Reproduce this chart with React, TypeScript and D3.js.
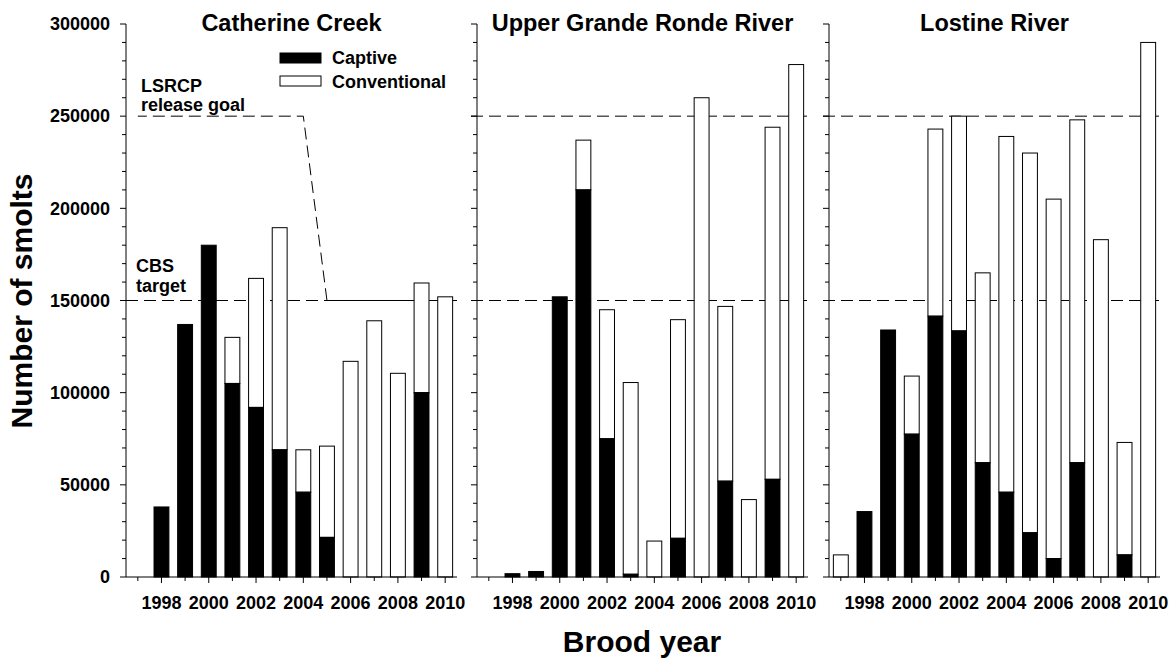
import React from "react";
import * as d3 from "d3";

const years = [1997, 1998, 1999, 2000, 2001, 2002, 2003, 2004, 2005, 2006, 2007, 2008, 2009, 2010];
const panelTitles = ["Catherine Creek", "Upper Grande Ronde River", "Lostine River"];

const catherineCaptive = [0, 38000, 137000, 180000, 105000, 92000, 69000, 46000, 21500, 0, 0, 0, 100000, 0];
const catherineConventional = [0, 0, 0, 0, 25000, 70000, 120500, 23000, 49500, 117000, 139000, 110500, 59500, 152000];

const grandeRondeCaptive = [0, 1800, 3000, 152000, 210000, 75000, 1500, 0, 21000, 0, 52000, 0, 53000, 0];
const grandeRondeConventional = [0, 0, 0, 0, 27000, 70000, 104000, 19500, 118600, 260000, 94800, 42000, 191000, 278000];

const lostineCaptive = [0, 35500, 134000, 77500, 141500, 133500, 62000, 46000, 24000, 10000, 62000, 0, 12000, 0];
const lostineConventional = [12000, 0, 0, 31500, 101500, 116500, 103000, 193000, 206000, 195000, 186000, 183000, 61000, 290000];

const yMajorTicks = [0, 50000, 100000, 150000, 200000, 250000, 300000];
const xLabelYears = [1998, 2000, 2002, 2004, 2006, 2008, 2010];

const lsrcpGoal = [
  { year: 1997, value: 250000 },
  { year: 2004, value: 250000 },
  { year: 2005, value: 150000 },
  { year: 2010.5, value: 150000 },
];
const cbsTarget = 150000;
const releaseGoal = 250000;

const seriesCaptive = [catherineCaptive, grandeRondeCaptive, lostineCaptive];
const seriesConventional = [catherineConventional, grandeRondeConventional, lostineConventional];

const W = 1173;
const H = 661;
const panelLefts = [126, 477, 829];
const panelWidth = 331;
const top = 24;
const bottom = 577;
const FONT = "'Liberation Sans', Arial, sans-serif";

export default function App() {
  const y = d3.scaleLinear().domain([0, 300000]).range([bottom, top]);
  const minorY = d3.range(0, 300001, 10000);

  return (
    <svg
      width={W}
      height={H}
      style={{ position: "absolute", left: 0, top: 0, background: "#fff" }}
      fontFamily={FONT}
      fontWeight="bold"
    >
      <rect x={0} y={0} width={W} height={H} fill="#fff" />
      {panelLefts.map((left, pi) => {
        const x = d3.scaleLinear().domain([1996.5, 2010.5]).range([left, left + panelWidth]);
        const step = x(1) - x(0);
        const bw = step * 0.63;
        const cap = seriesCaptive[pi];
        const conv = seriesConventional[pi];
        const line = d3
          .line<{ year: number; value: number }>()
          .x((d) => x(d.year))
          .y((d) => y(d.value));
        const dash = "12,6";
        return (
          <g key={pi}>
            {/* reference lines */}
            {pi === 0 ? (
              <>
                <line x1={left} x2={x(2010.5)} y1={y(cbsTarget)} y2={y(cbsTarget)} stroke="#000" strokeWidth={1} strokeDasharray={dash} />
                <path d={line(lsrcpGoal) || ""} fill="none" stroke="#000" strokeWidth={1} strokeDasharray={dash} strokeDashoffset={3} />
              </>
            ) : (
              <>
                <line x1={left - 6} x2={x(2010.5)} y1={y(cbsTarget)} y2={y(cbsTarget)} stroke="#000" strokeWidth={1} strokeDasharray={dash} />
                <line x1={left - 6} x2={x(2010.5)} y1={y(releaseGoal)} y2={y(releaseGoal)} stroke="#000" strokeWidth={1} strokeDasharray={dash} />
              </>
            )}
            {/* bars */}
            {years.map((yr, i) => {
              const c = cap[i];
              const v = conv[i];
              const cx = x(yr);
              return (
                <g key={yr}>
                  {v > 0 && (
                    <rect
                      x={cx - bw / 2}
                      y={y(c + v)}
                      width={bw}
                      height={y(c) - y(c + v)}
                      fill="#fff"
                      stroke="#000"
                      strokeWidth={1}
                    />
                  )}
                  {c > 0 && (
                    <rect
                      x={cx - bw / 2}
                      y={y(c)}
                      width={bw}
                      height={y(0) - y(c)}
                      fill="#000"
                      stroke="#000"
                      strokeWidth={1}
                    />
                  )}
                </g>
              );
            })}
            {/* y axis */}
            <line x1={left} x2={left} y1={top} y2={bottom} stroke="#000" strokeWidth={1} />
            {minorY.map((t) => {
              const major = t % 50000 === 0;
              return (
                <line key={t} x1={left - (major ? 6 : 4)} x2={left} y1={y(t)} y2={y(t)} stroke="#000" strokeWidth={1} />
              );
            })}
            {pi === 0 &&
              yMajorTicks.map((t) => (
                <text key={t} x={left - 16} y={y(t)} dy="0.35em" textAnchor="end" fontSize={18}>
                  {t}
                </text>
              ))}
            {/* x axis */}
            <line x1={left} x2={x(2010.5)} y1={bottom} y2={bottom} stroke="#000" strokeWidth={1} />
            {years.map((yr) => {
              const major = yr % 2 === 0;
              return (
                <line key={yr} x1={x(yr)} x2={x(yr)} y1={bottom} y2={bottom + (major ? 6 : 4)} stroke="#000" strokeWidth={1} />
              );
            })}
            {xLabelYears.map((yr) => (
              <text key={yr} x={x(yr)} y={609} textAnchor="middle" fontSize={18}>
                {yr}
              </text>
            ))}
            {/* title */}
            <text x={left + panelWidth / 2} y={31} textAnchor="middle" fontSize={23.5}>
              {panelTitles[pi]}
            </text>
          </g>
        );
      })}
      {/* legend */}
      <rect x={280} y={53} width={41} height={10} fill="#000" stroke="#000" strokeWidth={1} />
      <text x={332} y={64} fontSize={18}>Captive</text>
      <rect x={280} y={76} width={41} height={10} fill="#fff" stroke="#000" strokeWidth={1} />
      <text x={332} y={88} fontSize={18}>Conventional</text>
      {/* annotations */}
      <text x={141} y={92} fontSize={18}>LSRCP</text>
      <text x={141} y={111} fontSize={18}>release goal</text>
      <text x={136} y={272} fontSize={18}>CBS</text>
      <text x={136} y={292} fontSize={18}>target</text>
      {/* axis titles */}
      <text transform={`translate(32,301) rotate(-90)`} textAnchor="middle" fontSize={30}>
        Number of smolts
      </text>
      <text x={642} y={652} textAnchor="middle" fontSize={30}>
        Brood year
      </text>
    </svg>
  );
}
